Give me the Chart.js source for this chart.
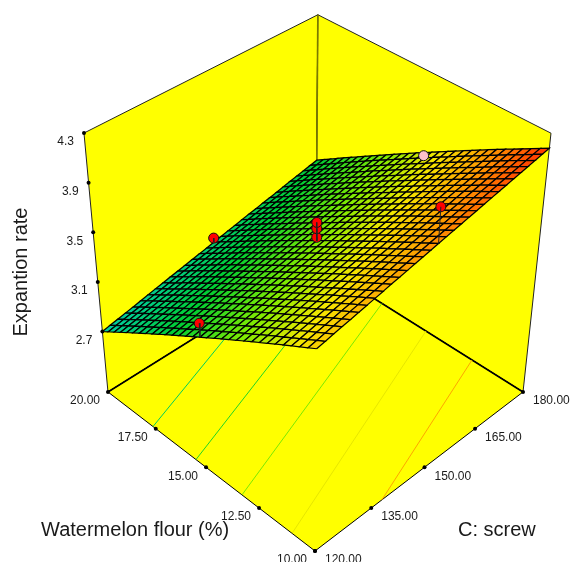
<!DOCTYPE html>
<html>
<head>
<meta charset="utf-8">
<title>Expantion rate</title>
<script src="https://cdn.jsdelivr.net/npm/chart.js@4"></script>
<style>
  html, body { margin: 0; padding: 0; background: #fff; }
  canvas { display: block; }
</style>
</head>
<body>
<canvas id="surface3d" width="572" height="562"></canvas>
<script>
// axis ticks
var flourTicks = [20, 17.5, 15, 12.5, 10];
var screwTicks = [120, 135, 150, 165, 180];
var rateTicks = [2.7, 3.1, 3.5, 3.9, 4.3];
var rateFloor = 2.213;

// design points
var pointFlour = [15, 20, 15, 15, 15, 10, 15];
var pointScrew = [120, 150, 150, 150, 150, 150, 180];
var pointRate = [3.35, 2.92, 3.46, 3.53, 3.58, 4.27, 3.6];

// contours on the floor
var contourLevels = [2.95, 3.19, 3.43, 3.67, 3.90];
var contourFlourA = [17.64, 15.49, 13.29, 11.01, 10];
var contourScrewA = [120, 120, 120, 120, 137.9];
var contourFlourB = [20, 18.8, 16.6, 14.45, 12.29];
var contourScrewB = [162, 180, 180, 180, 180];

// surface nodes: rows go flour 10 -> 20, columns go screw 120 -> 180
var rateGrid = [
[3.780,3.793,3.807,3.820,3.833,3.847,3.860,3.873,3.886,3.900,3.913,3.926,3.940,3.953,3.966,3.980,3.993,4.006,4.019,4.033,4.046,4.059,4.073,4.086,4.099,4.113,4.126,4.139,4.152,4.166,4.179],
[3.744,3.757,3.771,3.784,3.797,3.811,3.824,3.837,3.850,3.864,3.877,3.890,3.904,3.917,3.930,3.944,3.957,3.969,3.982,3.996,4.009,4.022,4.036,4.049,4.062,4.076,4.089,4.102,4.115,4.129,4.142],
[3.708,3.721,3.735,3.748,3.761,3.775,3.788,3.801,3.813,3.827,3.840,3.853,3.867,3.880,3.893,3.907,3.920,3.933,3.946,3.960,3.973,3.986,4.000,4.013,4.026,4.039,4.052,4.065,4.078,4.092,4.105],
[3.672,3.685,3.699,3.712,3.725,3.739,3.751,3.764,3.777,3.791,3.804,3.817,3.831,3.844,3.857,3.871,3.884,3.896,3.909,3.923,3.936,3.949,3.963,3.976,3.989,4.003,4.016,4.029,4.042,4.055,4.068],
[3.636,3.649,3.663,3.676,3.688,3.702,3.715,3.728,3.741,3.755,3.768,3.781,3.795,3.807,3.820,3.834,3.847,3.860,3.873,3.887,3.900,3.912,3.926,3.939,3.952,3.966,3.979,3.992,4.005,4.018,4.031],
[3.600,3.613,3.627,3.640,3.652,3.666,3.679,3.692,3.705,3.719,3.732,3.744,3.758,3.771,3.784,3.798,3.811,3.823,3.836,3.850,3.863,3.876,3.890,3.903,3.915,3.929,3.942,3.955,3.968,3.982,3.995],
[3.564,3.577,3.591,3.603,3.616,3.630,3.643,3.656,3.669,3.682,3.695,3.708,3.722,3.735,3.748,3.761,3.774,3.787,3.800,3.814,3.826,3.839,3.853,3.866,3.879,3.892,3.905,3.918,3.931,3.945,3.958],
[3.528,3.541,3.555,3.567,3.580,3.594,3.607,3.619,3.632,3.646,3.659,3.672,3.685,3.698,3.711,3.725,3.738,3.750,3.763,3.777,3.790,3.803,3.816,3.829,3.842,3.856,3.869,3.881,3.894,3.908,3.921],
[3.492,3.505,3.519,3.531,3.544,3.558,3.571,3.583,3.596,3.610,3.623,3.635,3.649,3.662,3.675,3.688,3.701,3.714,3.727,3.740,3.753,3.766,3.780,3.792,3.805,3.819,3.832,3.845,3.857,3.871,3.884],
[3.456,3.469,3.483,3.495,3.508,3.522,3.534,3.547,3.560,3.574,3.586,3.599,3.613,3.625,3.638,3.652,3.665,3.677,3.690,3.704,3.717,3.729,3.743,3.756,3.768,3.782,3.795,3.808,3.820,3.834,3.847],
[3.420,3.433,3.446,3.459,3.472,3.485,3.498,3.511,3.524,3.537,3.550,3.563,3.576,3.589,3.602,3.615,3.628,3.641,3.654,3.667,3.680,3.693,3.706,3.719,3.732,3.745,3.758,3.771,3.784,3.797,3.810],
[3.384,3.397,3.410,3.423,3.436,3.449,3.462,3.475,3.487,3.501,3.514,3.526,3.540,3.553,3.565,3.579,3.592,3.604,3.617,3.631,3.643,3.656,3.670,3.682,3.695,3.709,3.721,3.734,3.747,3.760,3.773],
[3.348,3.361,3.374,3.387,3.400,3.413,3.426,3.438,3.451,3.465,3.477,3.490,3.504,3.516,3.529,3.543,3.555,3.568,3.581,3.594,3.607,3.619,3.633,3.646,3.658,3.672,3.685,3.697,3.710,3.724,3.736],
[3.312,3.325,3.338,3.351,3.363,3.377,3.390,3.402,3.415,3.428,3.441,3.454,3.467,3.480,3.493,3.506,3.519,3.531,3.544,3.558,3.570,3.583,3.596,3.609,3.622,3.635,3.648,3.660,3.673,3.687,3.699],
[3.276,3.289,3.302,3.315,3.327,3.341,3.353,3.366,3.379,3.392,3.405,3.417,3.431,3.444,3.456,3.470,3.482,3.495,3.507,3.521,3.534,3.546,3.560,3.572,3.585,3.598,3.611,3.624,3.636,3.650,3.662],
[3.240,3.253,3.266,3.279,3.291,3.305,3.317,3.330,3.342,3.356,3.368,3.381,3.395,3.407,3.420,3.433,3.446,3.458,3.471,3.484,3.497,3.510,3.523,3.536,3.548,3.562,3.574,3.587,3.599,3.613,3.626],
[3.204,3.217,3.230,3.243,3.255,3.269,3.281,3.294,3.306,3.320,3.332,3.345,3.358,3.371,3.383,3.397,3.409,3.422,3.434,3.448,3.460,3.473,3.486,3.499,3.511,3.525,3.538,3.550,3.563,3.576,3.589],
[3.168,3.181,3.194,3.207,3.219,3.232,3.245,3.257,3.270,3.283,3.296,3.308,3.322,3.334,3.347,3.360,3.373,3.385,3.398,3.411,3.424,3.436,3.450,3.462,3.475,3.488,3.501,3.513,3.526,3.539,3.552],
[3.132,3.145,3.158,3.170,3.183,3.196,3.209,3.221,3.234,3.247,3.260,3.272,3.285,3.298,3.310,3.324,3.336,3.349,3.361,3.375,3.387,3.400,3.413,3.426,3.438,3.452,3.464,3.476,3.489,3.502,3.515],
[3.096,3.109,3.122,3.134,3.147,3.160,3.173,3.185,3.197,3.211,3.223,3.236,3.249,3.262,3.274,3.287,3.300,3.312,3.325,3.338,3.351,3.363,3.376,3.389,3.401,3.415,3.427,3.440,3.452,3.465,3.478],
[3.060,3.073,3.086,3.098,3.111,3.124,3.136,3.149,3.161,3.175,3.187,3.199,3.213,3.225,3.238,3.251,3.263,3.276,3.288,3.302,3.314,3.326,3.340,3.352,3.365,3.378,3.390,3.403,3.415,3.429,3.441],
[3.024,3.037,3.050,3.062,3.074,3.088,3.100,3.113,3.125,3.138,3.151,3.163,3.176,3.189,3.201,3.215,3.227,3.239,3.252,3.265,3.277,3.290,3.303,3.316,3.328,3.341,3.354,3.366,3.378,3.392,3.404],
[2.988,3.001,3.014,3.026,3.038,3.052,3.064,3.076,3.089,3.102,3.114,3.127,3.140,3.152,3.165,3.178,3.190,3.203,3.215,3.228,3.241,3.253,3.266,3.279,3.291,3.304,3.317,3.329,3.342,3.355,3.367],
[2.952,2.965,2.978,2.990,3.002,3.015,3.028,3.040,3.052,3.066,3.078,3.090,3.104,3.116,3.128,3.142,3.154,3.166,3.179,3.192,3.204,3.217,3.230,3.242,3.254,3.268,3.280,3.292,3.305,3.318,3.330],
[2.916,2.929,2.942,2.954,2.966,2.979,2.992,3.004,3.016,3.030,3.042,3.054,3.067,3.080,3.092,3.105,3.117,3.130,3.142,3.155,3.168,3.180,3.193,3.205,3.218,3.231,3.243,3.256,3.268,3.281,3.293],
[2.880,2.893,2.906,2.918,2.930,2.943,2.956,2.968,2.980,2.993,3.005,3.018,3.031,3.043,3.055,3.069,3.081,3.093,3.106,3.119,3.131,3.143,3.157,3.169,3.181,3.194,3.206,3.219,3.231,3.244,3.257],
[2.844,2.857,2.869,2.882,2.894,2.907,2.919,2.932,2.944,2.957,2.969,2.981,2.995,3.007,3.019,3.032,3.045,3.057,3.069,3.082,3.094,3.107,3.120,3.132,3.144,3.157,3.170,3.182,3.194,3.207,3.220],
[2.808,2.821,2.833,2.846,2.858,2.871,2.883,2.895,2.908,2.921,2.933,2.945,2.958,2.970,2.983,2.996,3.008,3.020,3.032,3.046,3.058,3.070,3.083,3.095,3.108,3.121,3.133,3.145,3.157,3.170,3.183],
[2.772,2.785,2.797,2.810,2.822,2.835,2.847,2.859,2.871,2.884,2.897,2.909,2.922,2.934,2.946,2.959,2.972,2.984,2.996,3.009,3.021,3.033,3.047,3.059,3.071,3.084,3.096,3.108,3.120,3.134,3.146],
[2.736,2.749,2.761,2.773,2.785,2.799,2.811,2.823,2.835,2.848,2.860,2.872,2.886,2.898,2.910,2.923,2.935,2.947,2.959,2.972,2.985,2.997,3.010,3.022,3.034,3.047,3.059,3.072,3.084,3.097,3.109],
[2.700,2.713,2.725,2.737,2.749,2.762,2.775,2.787,2.799,2.812,2.824,2.836,2.849,2.861,2.873,2.886,2.899,2.911,2.923,2.936,2.948,2.960,2.973,2.985,2.997,3.010,3.023,3.035,3.047,3.060,3.072]
];

var flourMin = 10, flourMax = 20, screwMin = 120, screwMax = 180, rateTop = 4.3;

// camera: perspective of the box, fitted to the corners of the picture
function corner(a, c, k) {
  var w = 1 + 0.1113 * a + 0.1118 * c - 0.1237 * k;
  return {
    x: (315 - 195 * a + 266.5 * c - 37.06 * k) / w,
    y: (551 - 115.4 * a - 115.2 * c - 304.2 * k) / w
  };
}

function project(flour, screw, rate) {
  var a = (flour - flourMin) / (flourMax - flourMin);
  var c = (screw - screwMin) / (screwMax - screwMin);
  var t = (rate - rateFloor) / (rateTop - rateFloor);
  var lo = corner(a, c, 0), hi = corner(a, c, 1);
  return { x: lo.x + (hi.x - lo.x) * t, y: lo.y + (hi.y - lo.y) * t };
}

var rampRate = [2.7, 3.1, 3.45, 3.7, 3.95, 4.18];
var rampColor = [[0, 205, 165], [0, 205, 50], [130, 235, 0], [245, 230, 0], [255, 150, 0], [255, 50, 0]];

function rampAt(rate) {
  var i = 0;
  while (i < rampRate.length - 2 && rate > rampRate[i + 1]) i++;
  var f = (rate - rampRate[i]) / (rampRate[i + 1] - rampRate[i]);
  f = Math.max(0, Math.min(1, f));
  var a = rampColor[i], b = rampColor[i + 1];
  return 'rgb(' + Math.round(a[0] + (b[0] - a[0]) * f) + ',' + Math.round(a[1] + (b[1] - a[1]) * f) + ',' + Math.round(a[2] + (b[2] - a[2]) * f) + ')';
}

function rateAtNode(flour, screw) {
  var i = Math.round((flour - flourMin) / (flourMax - flourMin) * (rateGrid.length - 1));
  var j = Math.round((screw - screwMin) / (screwMax - screwMin) * (rateGrid[0].length - 1));
  return rateGrid[i][j];
}

// datasets pushed back to front, reversed at the end
var sets = [];

function polygon(pts, fillColor, lineColor, lineWidth) {
  sets.push({
    data: pts, showLine: true, fill: fillColor ? 'shape' : false,
    backgroundColor: fillColor || 'transparent',
    borderColor: lineColor, borderWidth: lineWidth,
    pointRadius: 0, tension: 0
  });
}

var yellow = '#ffff00';

// walls and floor
polygon([project(20, 120, rateTop), project(20, 180, rateTop), project(20, 180, rateFloor), project(20, 120, rateFloor), project(20, 120, rateTop)], yellow, '#222', 1);
polygon([project(20, 180, rateTop), project(10, 180, rateTop), project(10, 180, rateFloor), project(20, 180, rateFloor), project(20, 180, rateTop)], yellow, '#222', 1);
polygon([project(10, 120, rateFloor), project(10, 180, rateFloor), project(20, 180, rateFloor), project(20, 120, rateFloor), project(10, 120, rateFloor)], yellow, '#000', 1);
polygon([project(20, 120, rateFloor), project(20, 180, rateFloor), project(10, 180, rateFloor)], null, '#000', 1.6);
polygon([project(20, 180, rateFloor), project(20, 180, rateTop)], null, '#7a7a00', 1.6);

// contours
contourLevels.forEach(function(level, k) {
  polygon([
    project(contourFlourA[k], contourScrewA[k], rateFloor),
    project(contourFlourB[k], contourScrewB[k], rateFloor)
  ], null, rampAt(level), 1);
});

// surface, far cells first
for (var i = rateGrid.length - 2; i >= 0; i--) {
  for (var j = rateGrid[i].length - 2; j >= 0; j--) {
    var f0 = flourMin + (flourMax - flourMin) * i / (rateGrid.length - 1);
    var f1 = flourMin + (flourMax - flourMin) * (i + 1) / (rateGrid.length - 1);
    var s0 = screwMin + (screwMax - screwMin) * j / (rateGrid[i].length - 1);
    var s1 = screwMin + (screwMax - screwMin) * (j + 1) / (rateGrid[i].length - 1);
    var mean = (rateGrid[i][j] + rateGrid[i + 1][j] + rateGrid[i][j + 1] + rateGrid[i + 1][j + 1]) / 4;
    polygon([
      project(f0, s0, rateGrid[i][j]), project(f0, s1, rateGrid[i][j + 1]),
      project(f1, s1, rateGrid[i + 1][j + 1]), project(f1, s0, rateGrid[i + 1][j]),
      project(f0, s0, rateGrid[i][j])
    ], rampAt(mean), '#000', 1.25);
  }
}

// design points with their stems
pointRate.forEach(function(rate, k) {
  var onSurface = rateAtNode(pointFlour[k], pointScrew[k]);
  var above = rate >= onSurface;
  sets.push({
    data: [project(pointFlour[k], pointScrew[k], rate)],
    showLine: false, pointRadius: 5, pointBorderWidth: 1,
    pointBackgroundColor: above ? '#ff0000' : '#ffc0cb', pointBorderColor: '#111'
  });
  if (above) {
    polygon([project(pointFlour[k], pointScrew[k], rate), project(pointFlour[k], pointScrew[k], onSurface)], null, '#222', 1);
  }
});

// tick marks
var tickPoints = [];
flourTicks.forEach(function(v) { tickPoints.push(project(v, 120, rateFloor)); });
screwTicks.forEach(function(v) { tickPoints.push(project(10, v, rateFloor)); });
rateTicks.forEach(function(v) { tickPoints.push(project(20, 120, v)); });
sets.push({ data: tickPoints, showLine: false, pointRadius: 2, pointBackgroundColor: '#000', pointBorderWidth: 0 });

var labelsPlugin = {
  id: 'boxLabels',
  afterDatasetsDraw: function(chart) {
    var ctx = chart.ctx, sx = chart.scales.x, sy = chart.scales.y;
    function put(p, dx, dy, text, align) {
      ctx.textAlign = align;
      ctx.fillText(text, sx.getPixelForValue(p.x) + dx, sy.getPixelForValue(p.y) + dy);
    }
    ctx.save();
    ctx.fillStyle = '#1a1a1a';
    ctx.textBaseline = 'middle';
    ctx.font = '12px "Liberation Sans", Arial, sans-serif';
    flourTicks.forEach(function(v) { put(project(v, 120, rateFloor), -8, 9, v.toFixed(2), 'right'); });
    screwTicks.forEach(function(v) { put(project(10, v, rateFloor), 10, 9, v.toFixed(2), 'left'); });
    rateTicks.forEach(function(v) { put(project(20, 120, v), -10, 9, v.toFixed(1), 'right'); });
    ctx.font = '20px "Liberation Sans", Arial, sans-serif';
    ctx.textAlign = 'left';
    ctx.fillText('Watermelon flour (%)', 41, 530);
    ctx.fillText('C: screw', 458, 530);
    ctx.translate(21, 272);
    ctx.rotate(-Math.PI / 2);
    ctx.textAlign = 'center';
    ctx.fillText('Expantion rate', 0, 0);
    ctx.restore();
  }
};

new Chart(document.getElementById('surface3d').getContext('2d'), {
  type: 'scatter',
  data: { datasets: sets.reverse() },
  options: {
    responsive: false,
    animation: false,
    events: [],
    layout: { padding: 0, autoPadding: false },
    plugins: { legend: { display: false }, tooltip: { enabled: false }, title: { display: false } },
    scales: {
      x: { type: 'linear', min: 0, max: 572, display: false },
      y: { type: 'linear', min: 0, max: 562, reverse: true, display: false }
    }
  },
  plugins: [labelsPlugin]
});
</script>
</body>
</html>
